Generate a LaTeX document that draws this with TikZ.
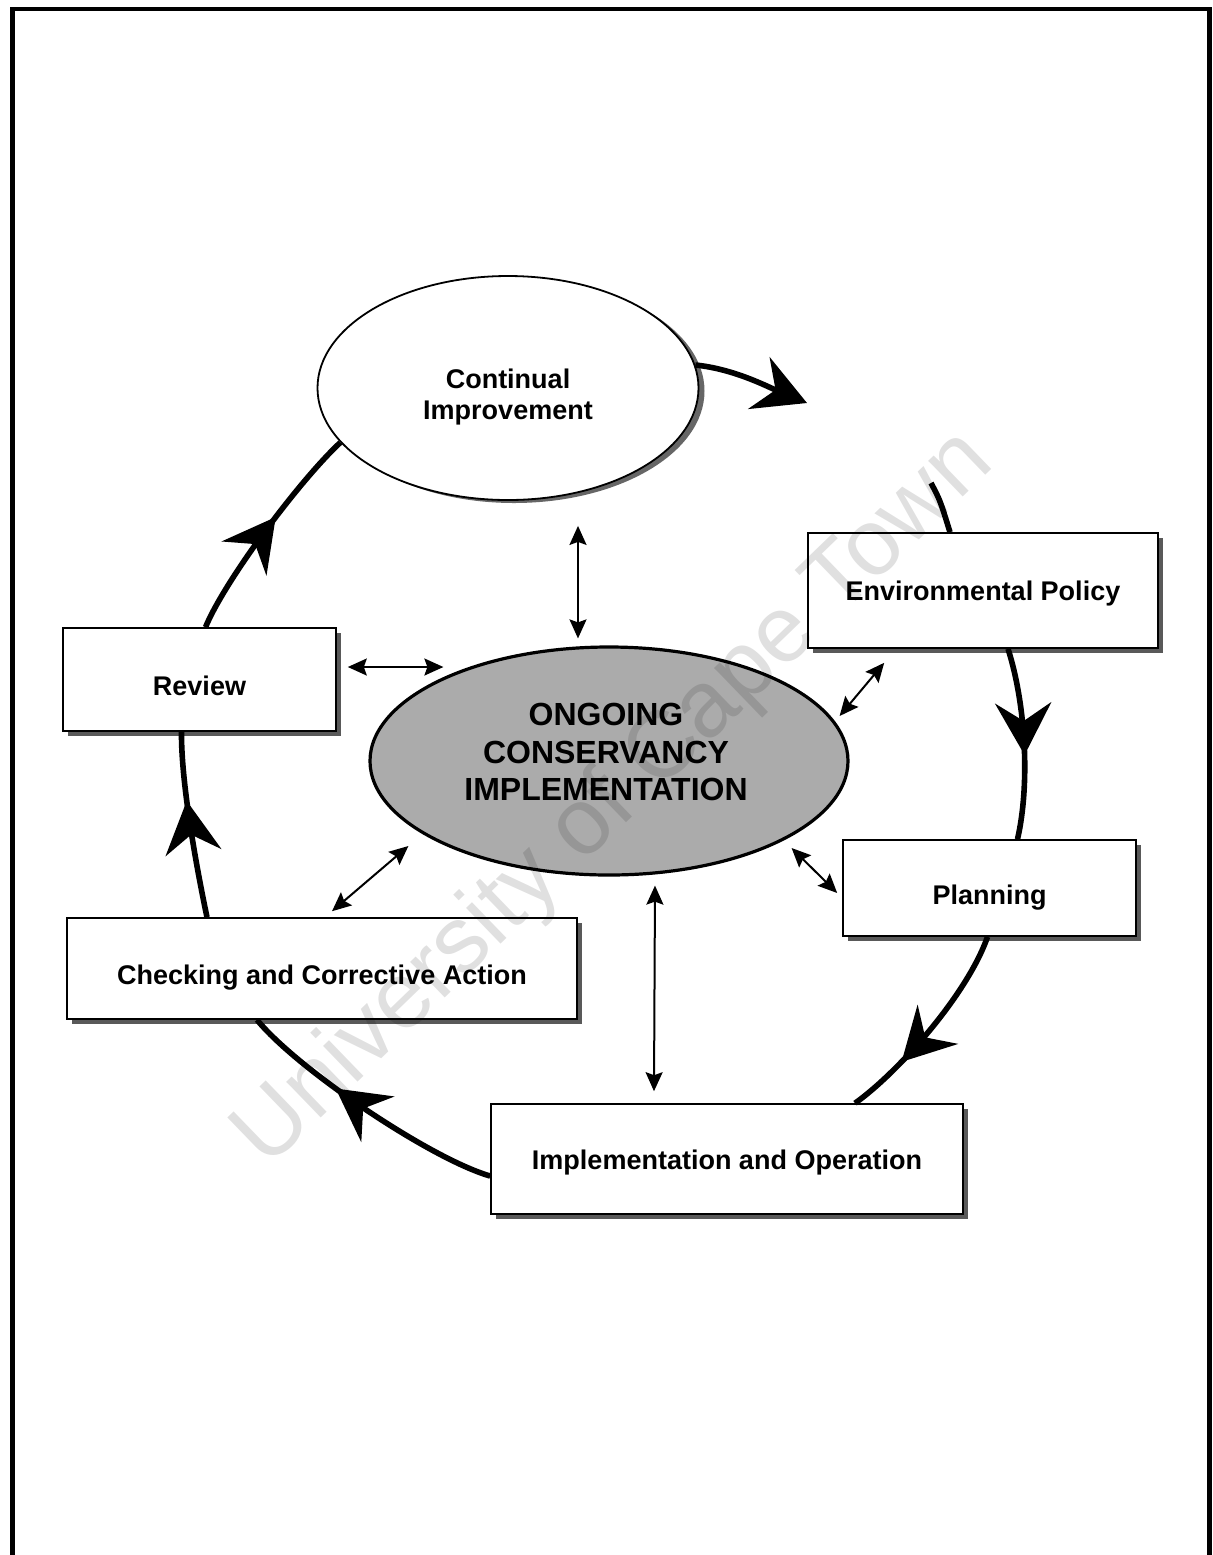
\documentclass[tikz,border=0pt]{standalone}
\usepackage{fontspec}
\setmainfont{Liberation Sans}
\usetikzlibrary{arrows.meta,shapes.geometric,shadows,decorations.markings,calc}
\begin{document}
\begin{tikzpicture}[x=0.5pt,y=-0.5pt,
  lbl/.style={font=\bfseries\fontsize{13.5}{15.5}\selectfont, align=center},
  box/.style={draw, line width=0.8pt, fill=white, rectangle, inner sep=0pt, lbl,
    drop shadow={shadow xshift=2.5pt, shadow yshift=-2.5pt, fill=black!65, opacity=1}},
  tpos/.style={text depth=0pt, text height=#1},
  cyc/.style={line width=2.8pt},
  cychead/.style={-{Stealth[length=26pt,width=28pt,inset=9pt]}},
  cycmid/.style={cyc, postaction={decorate},
    decoration={markings, mark=at position #1 with {\arrow{Stealth[length=26pt,width=28pt,inset=9pt]}}}},
  dbl/.style={line width=1pt, {Stealth[length=9.5pt,width=8.5pt,inset=1.5pt]}-{Stealth[length=9.5pt,width=8.5pt,inset=1.5pt]}},
]
\useasboundingbox (0,0) rectangle (1212,1555);
\fill[white] (0,0) rectangle (1212,1555);
% frame (open at bottom)
\draw[line width=2.3pt] (12.5,1560) -- (12.5,9) -- (1209.5,9) -- (1209.5,1560);

% ellipses
\node[ellipse, draw, line width=0.9pt, fill=white, minimum width=190.5pt, minimum height=112pt, inner sep=0pt,
  drop shadow={shadow xshift=3pt, shadow yshift=-1.5pt, fill=black!60, opacity=1}] (ci) at (508,388) {};
\node[lbl] (cit) at (508,397) {Continual\\Improvement};
\node[ellipse, draw, line width=1.6pt, fill=black!33, minimum width=239pt, minimum height=114pt, inner sep=0pt] (oc) at (609,761) {};
\node[font=\bfseries\fontsize{16}{18.75}\selectfont, align=center] (oct) at (606,752) {ONGOING\\CONSERVANCY\\IMPLEMENTATION};

% boxes
\node[box, tpos=10pt, minimum width=175pt, minimum height=57.5pt] (ep) at (983,590.5) {Environmental Policy};
\node[box, tpos=16.5pt, minimum width=146.5pt, minimum height=48pt] (pl) at (989.5,888) {Planning};
\node[box, tpos=10.5pt, minimum width=236pt, minimum height=55pt] (io) at (727,1159) {Implementation and Operation};
\node[box, tpos=16pt, minimum width=255pt, minimum height=50.5pt] (ck) at (322,968.5) {Checking and Corrective Action};
\node[box, tpos=16pt, minimum width=136.5pt, minimum height=51.5pt] (rv) at (199.5,679.5) {Review};

% cycle arrows
\coordinate (t1) at (807,403);
\draw[cyc, cychead] (ci.7) .. controls (734,369) and (766,386) .. (t1);
\coordinate (g1) at (931,483);
\draw[cyc] (g1) .. controls (940,500) .. ($(ep.north)+(-33,0)$);
\draw[cycmid=0.56] ($(ep.south)+(25,0)$) .. controls (1026,705) and (1030,785) .. ($(pl.north)+(28,0)$);
\draw[cycmid=0.71] ($(pl.south)+(-2,0)$) .. controls (968,993) and (900,1071) .. ($(io.north)+(128,0)$);
\draw[cycmid=0.63] ($(io.west)+(0,17)$) .. controls (431,1159) and (297,1069) .. ($(ck.south)+(-65,0)$);
\draw[cycmid=0.63] ($(ck.north)+(-115,0)$) .. controls (195,860) and (181,780) .. ($(rv.south)+(-18,0)$);
\draw[cycmid=0.57] ($(rv.north)+(6,0)$) .. controls (225,580) and (300,480) .. (ci.198);

% double arrows
\draw[dbl] ($(ci.south)+(70,25)$) -- ($(oc.north)+(-31,-7)$);
\draw[dbl] ($(rv.east)+(11,-12.5)$) -- ($(oc.west)+(75,-94)$);
\draw[dbl] ($(ep.south west)+(77,14)$) -- ($(oc.east)+(-10,-45)$);
\draw[dbl] ($(pl.west)+(-5,5)$) -- ($(oc.east)+(-58,87)$);
\draw[dbl] ($(ck.north)+(10,-6)$) -- ($(oc.west)+(40,85)$);
\draw[dbl] ($(io.north)+(-73,-12)$) -- ($(oc.south)+(46,9)$);

% watermark
\node[rotate=44, text=black, text opacity=0.12, font=\fontsize{47}{47}\selectfont] (wm) at (615,800) {University of Cape Town};
\end{tikzpicture}
\end{document}
